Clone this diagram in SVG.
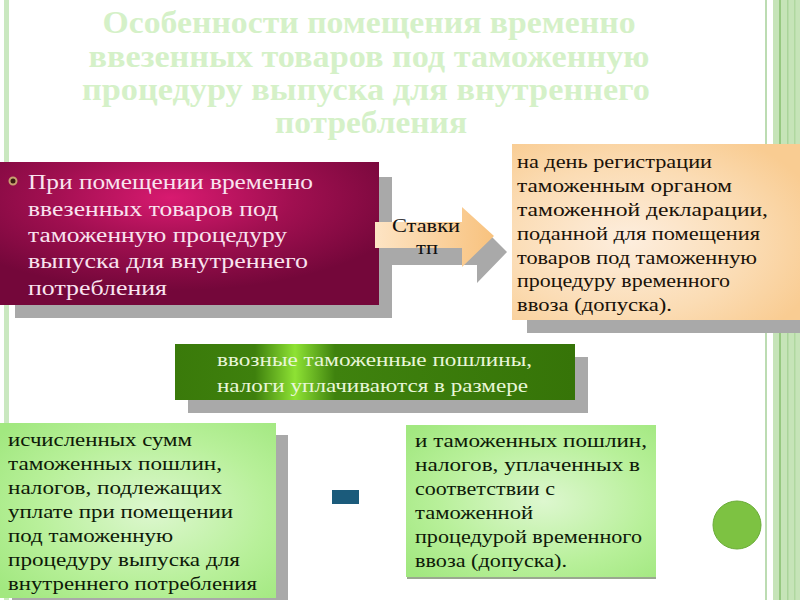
<svg xmlns="http://www.w3.org/2000/svg" width="800" height="600" viewBox="0 0 800 600" font-family="'Liberation Serif', 'Times New Roman', serif">
<defs>
<style>
.title{font-weight:bold;font-size:31px;fill:#d5f1c8;}
.mg{font-size:20.5px;fill:#f9e3ef;}
.pc{font-size:18px;fill:#1a1208;}
.dg{font-size:18px;fill:#e8f6d8;}
.lg{font-size:18px;fill:#0e1a08;}
.shadow{fill:#a9a9a9;}
</style>
<radialGradient id="gMag" cx="0.45" cy="0.25" r="0.65">
<stop offset="0" stop-color="#d81a70"/>
<stop offset="0.5" stop-color="#a00f50"/>
<stop offset="1" stop-color="#74073a"/>
</radialGradient>
<radialGradient id="gPeach" cx="0.4" cy="0.55" r="0.7">
<stop offset="0" stop-color="#fdeede"/>
<stop offset="0.6" stop-color="#fbdcb4"/>
<stop offset="1" stop-color="#f9cc92"/>
</radialGradient>
<linearGradient id="gArrow" x1="0" y1="0" x2="1" y2="0">
<stop offset="0" stop-color="#fde4c4"/>
<stop offset="1" stop-color="#f8c27e"/>
</linearGradient>
<linearGradient id="gDark" x1="0" y1="0" x2="1" y2="0">
<stop offset="0" stop-color="#3a7a0a"/>
<stop offset="0.2" stop-color="#3e800d"/>
<stop offset="0.3" stop-color="#8ee234"/>
<stop offset="0.4" stop-color="#3f820e"/>
<stop offset="1" stop-color="#367408"/>
</linearGradient>
<radialGradient id="gLight" cx="0.55" cy="0.5" r="0.7">
<stop offset="0" stop-color="#ddf7cf"/>
<stop offset="0.6" stop-color="#b8f09a"/>
<stop offset="1" stop-color="#a2e880"/>
</radialGradient>
<clipPath id="ghostClip"><rect x="400" y="262" width="60" height="10"/></clipPath>
</defs>
<rect x="0" y="0" width="800" height="600" fill="#ffffff"/>
<g id="frame">
<rect x="4" y="0" width="5" height="600" fill="#cae8c0"/>
<rect x="765" y="0" width="2" height="600" fill="#bcdcb2"/>
<rect x="773" y="0" width="27" height="600" fill="#c6e4b8"/>
<rect x="779" y="0" width="2" height="600" fill="#96c880"/>
<rect x="787" y="0" width="1.5" height="600" fill="#aad49a"/>
<rect x="794" y="0" width="1.5" height="600" fill="#b0d8a0"/>
</g>
<g id="title">
<text class="title" x="369" y="33" text-anchor="middle" textLength="533" lengthAdjust="spacingAndGlyphs">Особенности помещения временно</text>
<text class="title" x="369" y="67" text-anchor="middle" textLength="561" lengthAdjust="spacingAndGlyphs">ввезенных товаров под таможенную</text>
<text class="title" x="366" y="100" text-anchor="middle" textLength="568" lengthAdjust="spacingAndGlyphs">процедуру выпуска для внутреннего</text>
<text class="title" x="371" y="133" text-anchor="middle" textLength="192" lengthAdjust="spacingAndGlyphs">потребления</text>
</g>
<g id="node-placement">
<rect class="shadow" x="15" y="177" width="377" height="141"/>
<rect x="0" y="162" width="379" height="143" fill="url(#gMag)"/>
<circle cx="13" cy="181" r="3.5" fill="#3a1a10" stroke="#c8a070" stroke-width="2"/>
<text class="mg" x="28" y="189" textLength="285" lengthAdjust="spacingAndGlyphs">При помещении временно</text>
<text class="mg" x="28" y="216" textLength="250" lengthAdjust="spacingAndGlyphs">ввезенных товаров под</text>
<text class="mg" x="28" y="242" textLength="259" lengthAdjust="spacingAndGlyphs">таможенную процедуру</text>
<text class="mg" x="28" y="268" textLength="280" lengthAdjust="spacingAndGlyphs">выпуска для внутреннего</text>
<text class="mg" x="28" y="295" textLength="139" lengthAdjust="spacingAndGlyphs">потребления</text>
</g>
<g id="connectors">
<polygon class="shadow" points="388,238 477,238 477,222 507,252 477,283 477,265 388,265"/>
<text x="431" y="281" text-anchor="middle" font-size="18" fill="#d6d6d6" clip-path="url(#ghostClip)" textLength="20" lengthAdjust="spacingAndGlyphs">тп</text>
<polygon points="375,222 462,222 462,207 494,236 462,267 462,248 375,248" fill="url(#gArrow)"/>
<text x="426" y="232" text-anchor="middle" font-size="18" fill="#111" textLength="68" lengthAdjust="spacingAndGlyphs">Ставки</text>
<text x="427" y="254" text-anchor="middle" font-size="18" fill="#111" textLength="22" lengthAdjust="spacingAndGlyphs">тп</text>
</g>
<g id="node-date">
<rect class="shadow" x="527" y="160" width="273" height="173"/>
<rect x="512" y="144" width="288" height="176" fill="url(#gPeach)"/>
<text class="pc" x="517" y="168" textLength="195" lengthAdjust="spacingAndGlyphs">на день регистрации</text>
<text class="pc" x="517" y="192" textLength="215" lengthAdjust="spacingAndGlyphs">таможенным органом</text>
<text class="pc" x="517" y="216" textLength="251" lengthAdjust="spacingAndGlyphs">таможенной декларации,</text>
<text class="pc" x="517" y="240" textLength="243" lengthAdjust="spacingAndGlyphs">поданной для помещения</text>
<text class="pc" x="517" y="264" textLength="240" lengthAdjust="spacingAndGlyphs">товаров под таможенную</text>
<text class="pc" x="517" y="287" textLength="213" lengthAdjust="spacingAndGlyphs">процедуру временного</text>
<text class="pc" x="517" y="311" textLength="155" lengthAdjust="spacingAndGlyphs">ввоза (допуска).</text>
</g>
<g id="node-duties">
<rect class="shadow" x="188" y="357" width="400" height="56"/>
<rect x="175" y="344" width="400" height="56" fill="url(#gDark)"/>
<text class="dg" x="217" y="366" textLength="315" lengthAdjust="spacingAndGlyphs">ввозные таможенные пошлины,</text>
<text class="dg" x="217" y="392" textLength="311" lengthAdjust="spacingAndGlyphs">налоги уплачиваются в размере</text>
</g>
<g id="node-calculated">
<rect class="shadow" x="12" y="435" width="276" height="165"/>
<rect x="0" y="423" width="276" height="175" fill="url(#gLight)"/>
<text class="lg" x="8" y="446" textLength="184" lengthAdjust="spacingAndGlyphs">исчисленных сумм</text>
<text class="lg" x="8" y="470" textLength="214" lengthAdjust="spacingAndGlyphs">таможенных пошлин,</text>
<text class="lg" x="8" y="494" textLength="214" lengthAdjust="spacingAndGlyphs">налогов, подлежащих</text>
<text class="lg" x="8" y="518" textLength="225" lengthAdjust="spacingAndGlyphs">уплате при помещении</text>
<text class="lg" x="8" y="542" textLength="165" lengthAdjust="spacingAndGlyphs">под таможенную</text>
<text class="lg" x="8" y="566" textLength="232" lengthAdjust="spacingAndGlyphs">процедуру выпуска для</text>
<text class="lg" x="8" y="590" textLength="249" lengthAdjust="spacingAndGlyphs">внутреннего потребления</text>
</g>
<g id="node-minus">
<rect x="332" y="490" width="27" height="14" fill="#1b5b7b"/>
</g>
<g id="node-paid">
<rect x="407" y="427" width="249" height="152" fill="#9aa890"/>
<rect x="406" y="425" width="250" height="152" fill="url(#gLight)"/>
<text class="lg" x="415" y="447" textLength="232" lengthAdjust="spacingAndGlyphs">и таможенных пошлин,</text>
<text class="lg" x="415" y="471" textLength="225" lengthAdjust="spacingAndGlyphs">налогов, уплаченных в</text>
<text class="lg" x="415" y="495" textLength="140" lengthAdjust="spacingAndGlyphs">соответствии с</text>
<text class="lg" x="415" y="519" textLength="118" lengthAdjust="spacingAndGlyphs">таможенной</text>
<text class="lg" x="415" y="543" textLength="227" lengthAdjust="spacingAndGlyphs">процедурой временного</text>
<text class="lg" x="415" y="567" textLength="152" lengthAdjust="spacingAndGlyphs">ввоза (допуска).</text>
</g>
<g id="node-circle">
<circle cx="737" cy="525" r="24" fill="#7dc242" stroke="#6aac38" stroke-width="1"/>
</g>
</svg>
